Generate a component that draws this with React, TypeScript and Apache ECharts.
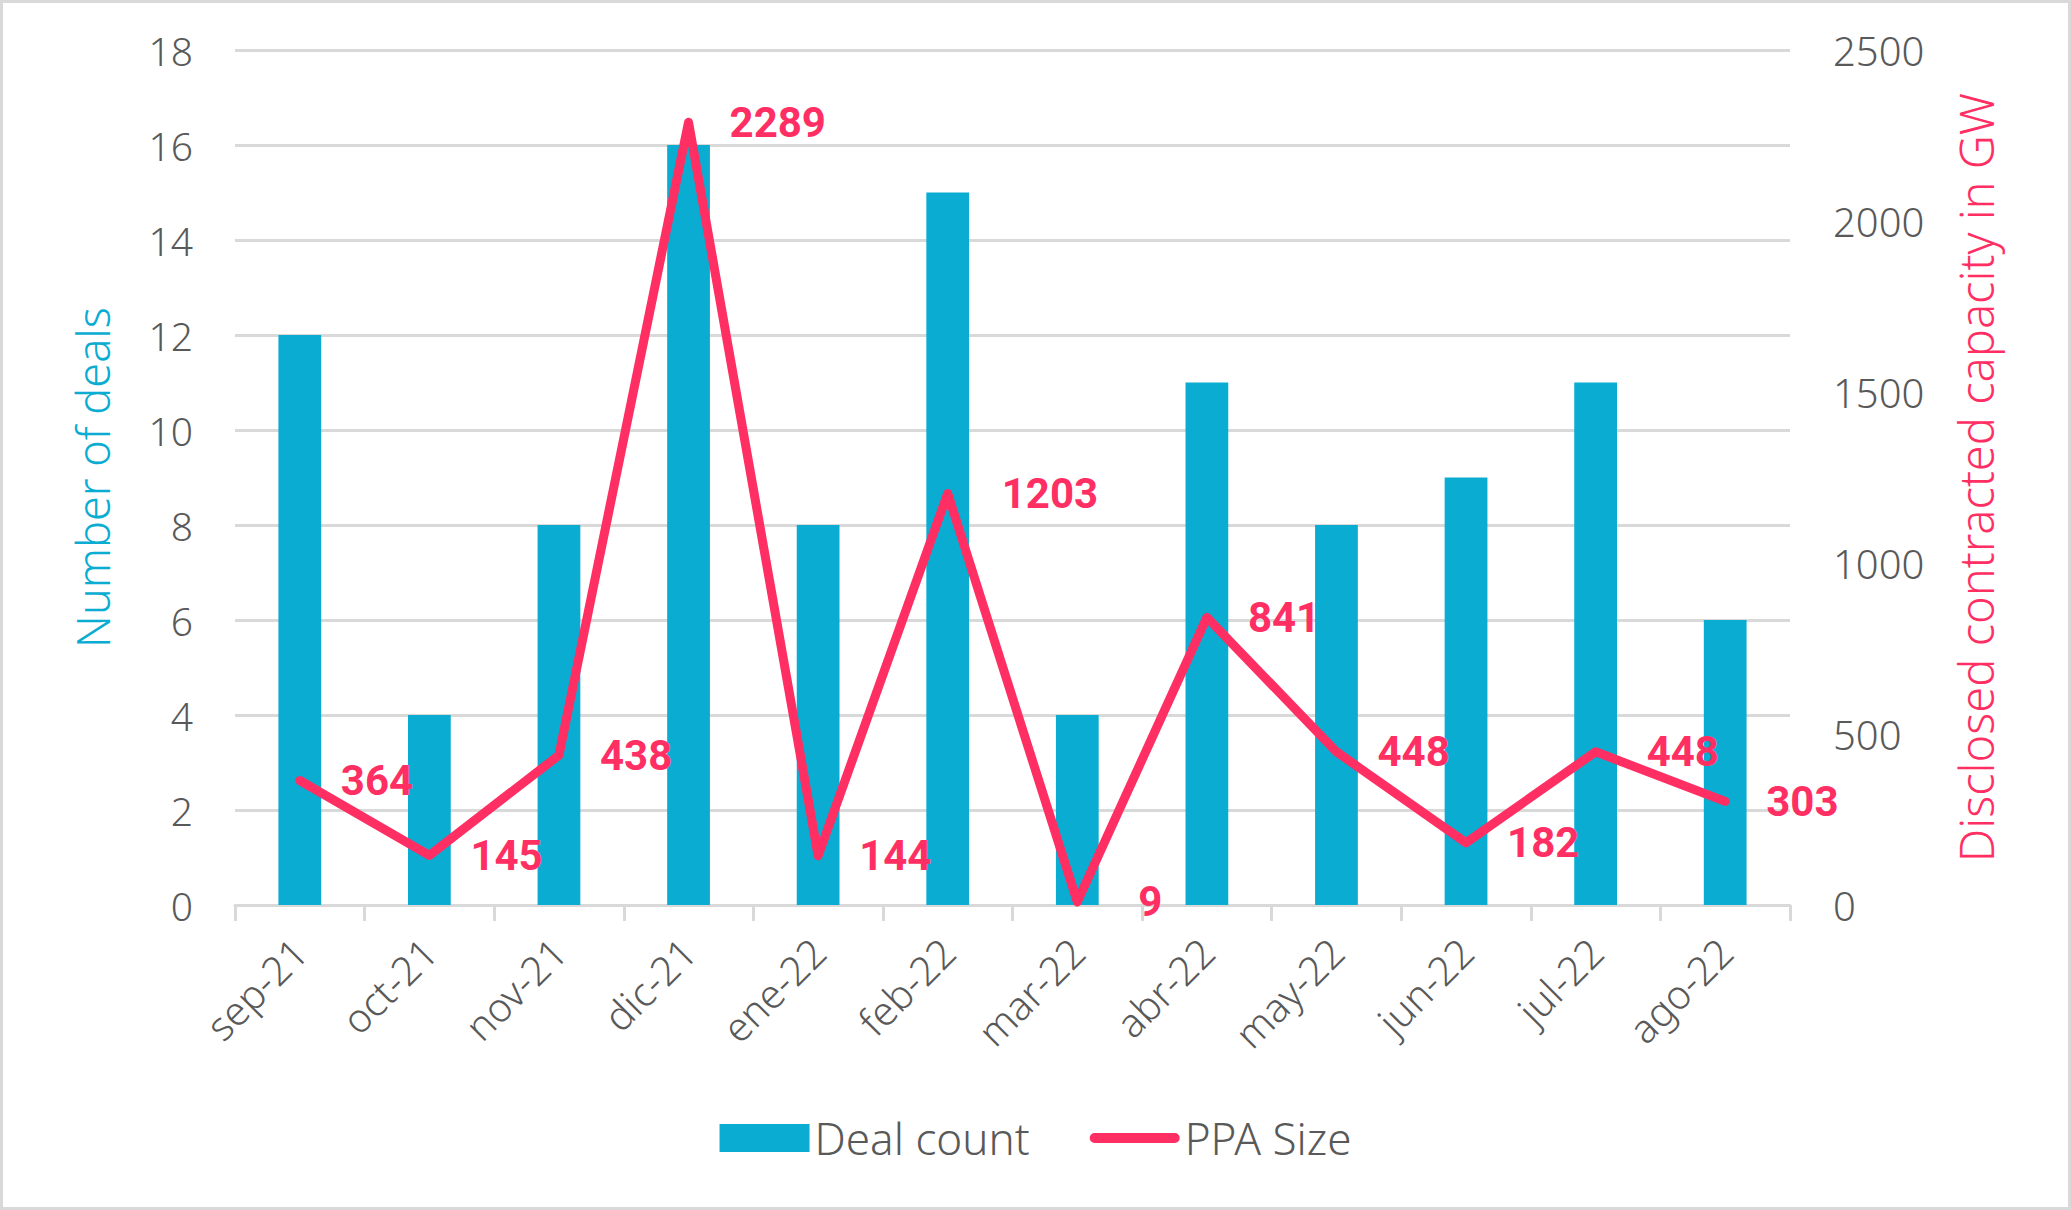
import { useEffect, useRef } from 'react'
import * as echarts from 'echarts'

const months = [
  'sep-21', 'oct-21', 'nov-21', 'dic-21', 'ene-22', 'feb-22',
  'mar-22', 'abr-22', 'may-22', 'jun-22', 'jul-22', 'ago-22',
]
const dealCount = [12, 4, 8, 16, 8, 15, 4, 11, 8, 9, 11, 6]
const ppaSize = [364, 145, 438, 2289, 144, 1203, 9, 841, 448, 182, 448, 303]

const leftTicks = { min: 0, max: 18, interval: 2 }
const rightTicks = { min: 0, max: 2500, interval: 500 }

// labels that sit a bit further off their point (leader line in the original)
const WIDE_LABELS: Record<number, number> = { 5: 53, 6: 60, 10: 50 }

const BLUE = '#0aacd2'
const PINK = '#ff2e63'
const GREY_TEXT = '#595959'
const GRID = '#d9d9d9'
const FONT = 'Noto Sans'

export default function App() {
  const chartRef = useRef<HTMLDivElement>(null)

  useEffect(() => {
    if (!chartRef.current) return
    const chart = echarts.init(chartRef.current, undefined, { renderer: 'svg' })

    const option: echarts.EChartsOption = {
      animation: false,
      backgroundColor: '#ffffff',
      grid: { left: 232, right: 278, top: 47, bottom: 302 },
      legend: {
        bottom: 42,
        left: 'center',
        itemWidth: 90,
        itemHeight: 28,
        itemGap: 60,
        textStyle: { color: GREY_TEXT, fontSize: 44, fontFamily: FONT, fontWeight: 300 },
        data: [
          { name: 'Deal count', icon: 'rect' },
          {
            name: 'PPA Size',
            icon: 'path://M5,0 L87,0 A5,5 0 0 1 87,10 L5,10 A5,5 0 0 1 5,0 Z',
            itemStyle: { color: PINK },
          },
        ],
      },
      xAxis: {
        type: 'category',
        data: months,
        boundaryGap: true,
        axisLine: { lineStyle: { color: GRID, width: 3 } },
        axisTick: { show: true, length: 16, lineStyle: { color: GRID, width: 3 } },
        axisLabel: {
          rotate: 45,
          margin: 40,
          color: GREY_TEXT,
          fontSize: 40,
          fontFamily: FONT,
          fontWeight: 300,
        },
      },
      yAxis: [
        {
          type: 'value',
          ...leftTicks,
          name: 'Number of deals',
          nameLocation: 'middle',
          nameRotate: 90,
          nameGap: 120,
          nameTextStyle: { color: BLUE, fontSize: 45, fontFamily: FONT, fontWeight: 300 },
          axisLine: { show: false },
          axisTick: { show: false },
          axisLabel: {
            margin: 42,
            color: GREY_TEXT,
            fontSize: 39,
            fontFamily: FONT,
            fontWeight: 300,
          },
          splitLine: { lineStyle: { color: GRID, width: 3 } },
        },
        {
          type: 'value',
          ...rightTicks,
          position: 'right',
          name: 'Disclosed contracted capacity in GW',
          nameLocation: 'middle',
          nameRotate: 90,
          nameGap: 162,
          nameTextStyle: { color: PINK, fontSize: 47, fontFamily: FONT, fontWeight: 300 },
          axisLine: { show: false },
          axisTick: { show: false },
          axisLabel: {
            margin: 43,
            color: GREY_TEXT,
            fontSize: 40,
            fontFamily: FONT,
            fontWeight: 300,
            formatter: (v: number) => String(v),
          },
          splitLine: { show: false },
        },
      ],
      series: [
        {
          name: 'Deal count',
          type: 'bar',
          yAxisIndex: 0,
          barWidth: '33%',
          itemStyle: { color: BLUE },
          data: dealCount,
        },
        {
          name: 'PPA Size',
          type: 'line',
          yAxisIndex: 1,
          symbol: 'circle',
          symbolSize: 2,
          itemStyle: { color: PINK },
          lineStyle: { color: PINK, width: 9, cap: 'round', join: 'round' },
          label: {
            show: true,
            position: 'right',
            distance: 40,
            color: PINK,
            fontSize: 42,
            fontWeight: 700,
            fontFamily: 'Roboto',
          },
          data: ppaSize.map((v, i) =>
            WIDE_LABELS[i] ? { value: v, label: { distance: WIDE_LABELS[i] } } : v,
          ),
          z: 5,
        },
      ],
    }

    chart.setOption(option)
    return () => chart.dispose()
  }, [])

  return (
    <div
      style={{
        position: 'fixed',
        left: 0,
        top: 0,
        width: 2071,
        height: 1210,
        boxSizing: 'border-box',
        border: `3px solid ${GRID}`,
        background: '#fff',
      }}
    >
      <div ref={chartRef} style={{ width: '100%', height: '100%' }} />
    </div>
  )
}
